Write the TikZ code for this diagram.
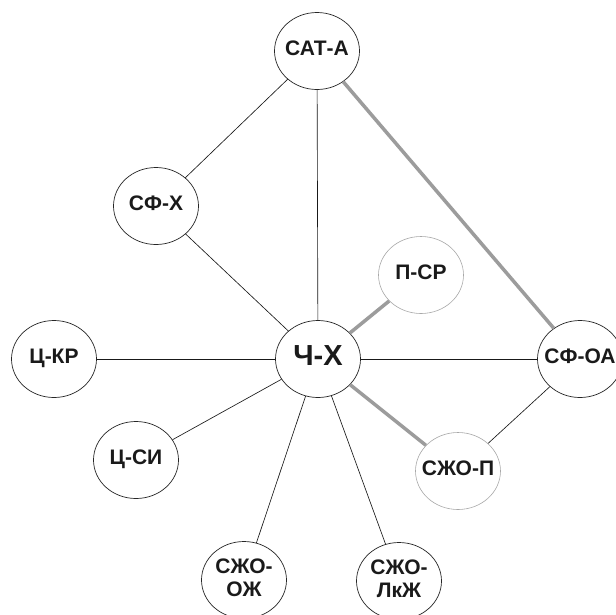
\documentclass[tikz,border=0pt]{standalone}
\usepackage{fontspec}
\setmainfont{Liberation Sans}
\usetikzlibrary{shapes.geometric}
\newcommand{\lbl}[1]{\makebox[0pt][c]{\begin{tabular}{@{}c@{}}#1\end{tabular}}}
\definecolor{txt}{HTML}{1A1A1A}
\definecolor{edgegray}{HTML}{9C9C9C}
\definecolor{rimgray}{HTML}{A8A8A8}
\tikzset{
  bub/.style={ellipse, draw=black!85, line width=0.7pt, fill=white, minimum width=85pt, minimum height=77pt, inner sep=0pt,
    font=\fontsize{21}{23}\selectfont\bfseries, text=txt},
  bubgray/.style={bub, draw=rimgray, line width=0.6pt},
  big/.style={font=\fontsize{29}{31}\selectfont\bfseries},
  thin/.style={draw=black!90, line width=0.65pt},
  thick/.style={draw=edgegray, line width=3.5pt}
}
\begin{document}
\begin{tikzpicture}[x=1pt,y=-1pt]
\useasboundingbox (0,0) rectangle (616,614);
\fill[white] (0,0) rectangle (616,614);
% nodes
\node[bub] (sata) at (317,51) {\lbl{САТ-А}};
\node[bub] (sfx) at (156,206) {\lbl{СФ-Х}};
\node[bubgray] (psr) at (421,275) {\lbl{П-СР}};
\node[bub,big] (chx) at (318,359) {\lbl{Ч-Х}};
\node[bub] (tskr) at (54,359) {\lbl{Ц-КР}};
\node[bub] (sfoa) at (580,359) {\lbl{СФ-ОА}};
\node[bub] (tssi) at (136,460) {\lbl{Ц-СИ}};
\node[bubgray] (szhop) at (458,471) {\lbl{СЖО-П}};
\node[bub] (szhooz) at (244,580) {\lbl{СЖО-\\ОЖ}};
\node[bub] (szholk) at (399,581) {\lbl{СЖО-\\ЛкЖ}};
% edges
\draw[thin] (sata) -- (sfx);
\draw[thin] (sata) -- (chx);
\draw[thin] (sfx) -- (chx);
\draw[thin] (tskr) -- (chx);
\draw[thin] (chx) -- (sfoa);
\draw[thin] (chx) -- (tssi);
\draw[thin] (chx) -- (szhooz);
\draw[thin] (chx) -- (szholk);
\draw[thin] (sfoa) -- (szhop);
\draw[thick] (sata) -- (sfoa);
\draw[thick] (chx) -- (psr);
\draw[thick] (chx) -- (szhop);
\end{tikzpicture}
\end{document}
